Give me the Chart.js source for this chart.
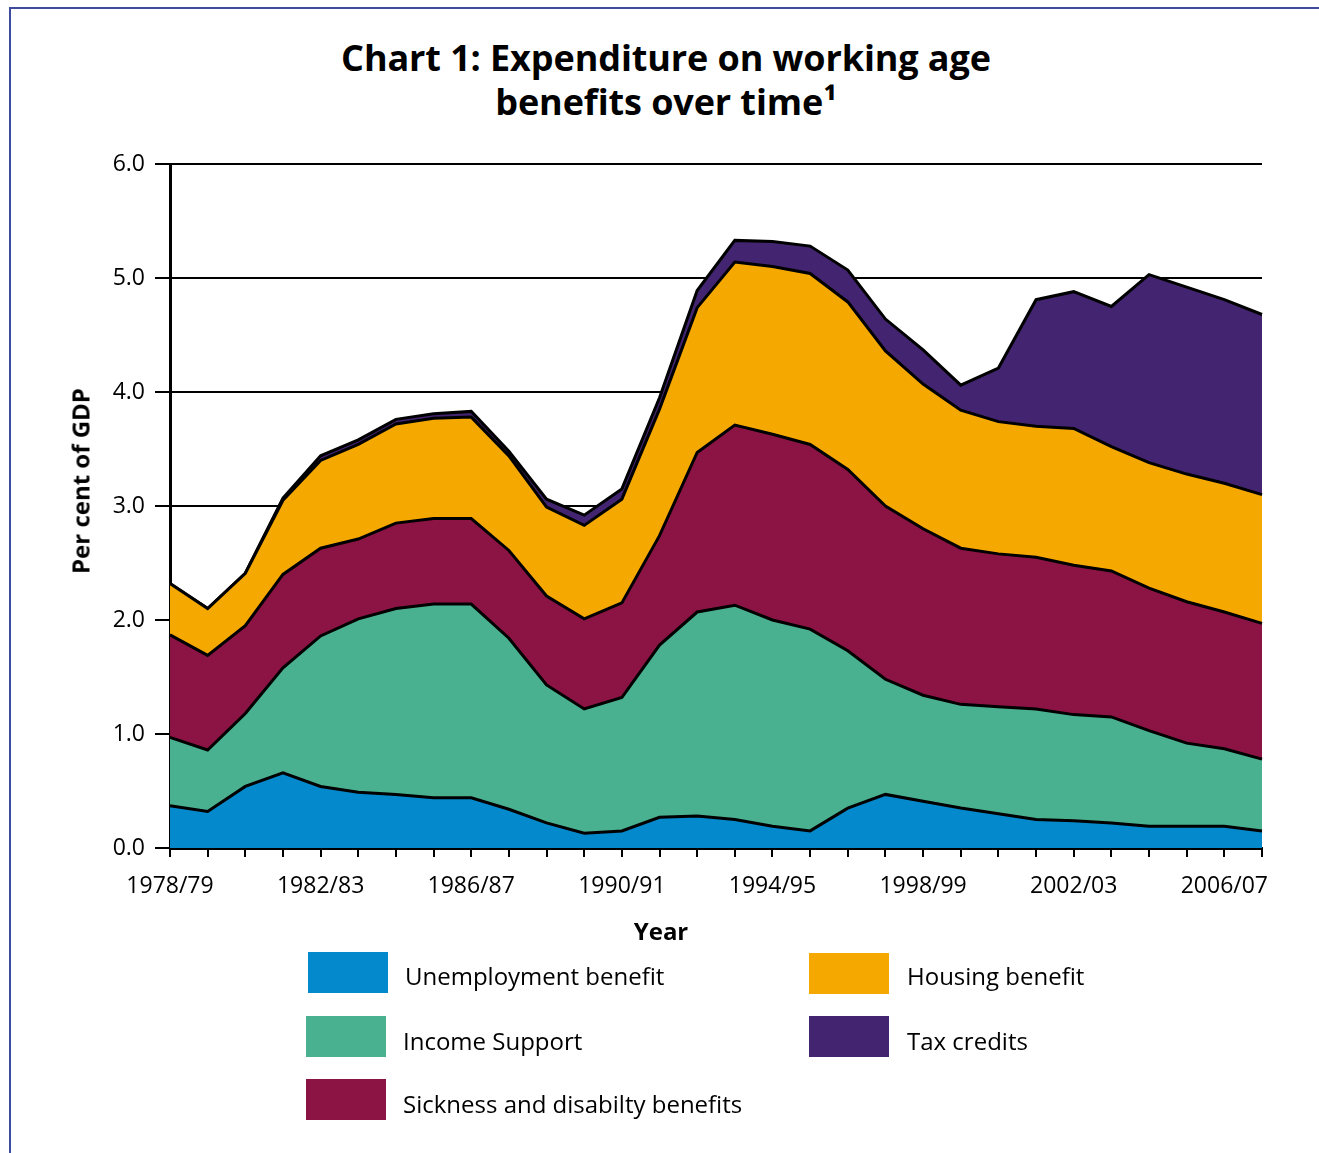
<!DOCTYPE html>
<html>
<head>
<meta charset="utf-8">
<script src="https://cdn.jsdelivr.net/npm/chart.js@4.4.1/dist/chart.umd.min.js"></script>
<style>
  body { margin: 0; background: #fff; }
  #page { position: relative; width: 1319px; height: 1153px; overflow: hidden; font-family: "Open Sans", sans-serif; color: #000; }
  #frame { position: absolute; left: 9px; top: 7px; width: 1330px; height: 1170px; border-top: 2px solid #3d4c9c; border-left: 2px solid #3d4c9c; }
  #title { position: absolute; left: 0; top: 36px; width: 1332px; text-align: center; font-weight: bold; font-size: 36px; line-height: 44px; letter-spacing: -0.1px; }
  #chart { position: absolute; left: 0; top: 0; }
  #ytitle { position: absolute; left: 80px; top: 481px; transform: translate(-50%, -50%) rotate(-90deg); font-weight: bold; font-size: 24px; white-space: nowrap; }
  #xtitle { position: absolute; left: 661px; top: 930px; transform: translate(-50%, -50%); font-weight: bold; font-size: 24px; }
  .sw { position: absolute; width: 80px; height: 41px; }
  .lb { position: absolute; font-size: 24px; line-height: 41px; white-space: nowrap; }
</style>
</head>
<body>
<div id="page">
  <div id="frame"></div>
  <div id="title">Chart 1: Expenditure on working age<br>benefits over time¹</div>
  <canvas id="chart" width="1319" height="1153"></canvas>
  <div id="ytitle">Per cent of GDP</div>
  <div id="xtitle">Year</div>

  <div class="sw" style="left:308px;top:952px;background:#0389cc"></div>
  <div class="lb" style="left:405px;top:955px">Unemployment benefit</div>
  <div class="sw" style="left:306px;top:1016px;background:#49b090"></div>
  <div class="lb" style="left:403px;top:1020px">Income Support</div>
  <div class="sw" style="left:306px;top:1079px;background:#8c1445"></div>
  <div class="lb" style="left:403px;top:1083px">Sickness and disabilty benefits</div>
  <div class="sw" style="left:809px;top:953px;background:#f5a800"></div>
  <div class="lb" style="left:907px;top:955px">Housing benefit</div>
  <div class="sw" style="left:809px;top:1016px;background:#432470"></div>
  <div class="lb" style="left:907px;top:1020px">Tax credits</div>
</div>

<script>
// financial years shown on the x axis
const years = [
  '1978/79', '1979/80', '1980/81', '1981/82', '1982/83', '1983/84', '1984/85', '1985/86',
  '1986/87', '1987/88', '1988/89', '1989/90', '1990/91', '1991/92', '1992/93', '1993/94',
  '1994/95', '1995/96', '1996/97', '1997/98', '1998/99', '1999/00', '2000/01', '2001/02',
  '2002/03', '2003/04', '2004/05', '2005/06', '2006/07', '2007/08'
];

// per cent of GDP
const unemployment = [0.37, 0.32, 0.54, 0.66, 0.54, 0.49, 0.47, 0.44, 0.44, 0.34, 0.22, 0.13, 0.15, 0.27, 0.28,
  0.25, 0.19, 0.15, 0.35, 0.47, 0.41, 0.35, 0.30, 0.25, 0.24, 0.22, 0.19, 0.19, 0.19, 0.15];
const incomeSupport = [0.60, 0.54, 0.64, 0.92, 1.32, 1.52, 1.63, 1.70, 1.70, 1.50, 1.21, 1.09, 1.17, 1.51, 1.79,
  1.88, 1.81, 1.77, 1.38, 1.01, 0.93, 0.91, 0.94, 0.97, 0.93, 0.93, 0.84, 0.73, 0.68, 0.63];
const sickness = [0.90, 0.83, 0.77, 0.82, 0.77, 0.70, 0.75, 0.75, 0.75, 0.77, 0.78, 0.79, 0.83, 0.96, 1.40,
  1.58, 1.63, 1.62, 1.59, 1.52, 1.46, 1.37, 1.34, 1.33, 1.31, 1.28, 1.25, 1.24, 1.20, 1.19];
const housing = [0.45, 0.41, 0.46, 0.65, 0.77, 0.83, 0.87, 0.88, 0.89, 0.83, 0.78, 0.82, 0.91, 1.11, 1.27,
  1.43, 1.47, 1.50, 1.47, 1.36, 1.27, 1.21, 1.16, 1.15, 1.20, 1.09, 1.10, 1.12, 1.13, 1.13];
const taxCredits = [0, 0, 0, 0.02, 0.04, 0.04, 0.04, 0.04, 0.05, 0.04, 0.07, 0.09, 0.09, 0.10, 0.15,
  0.19, 0.22, 0.24, 0.28, 0.28, 0.30, 0.22, 0.47, 1.11, 1.20, 1.23, 1.65, 1.64, 1.61, 1.58];

const yTicks = ['0.0', '1.0', '2.0', '3.0', '4.0', '5.0', '6.0'];

const series = [
  { label: 'Unemployment benefit', data: unemployment, color: '#0389cc' },
  { label: 'Income Support', data: incomeSupport, color: '#49b090' },
  { label: 'Sickness and disabilty benefits', data: sickness, color: '#8c1445' },
  { label: 'Housing benefit', data: housing, color: '#f5a800' },
  { label: 'Tax credits', data: taxCredits, color: '#432470' }
];

new Chart(document.getElementById('chart'), {
  type: 'line',
  data: {
    labels: years,
    datasets: series.map((s, i) => ({
      label: s.label,
      data: s.data,
      backgroundColor: s.color,
      borderColor: '#000',
      borderWidth: 3,
      fill: i === 0 ? 'origin' : '-1',
      pointRadius: 0,
      tension: 0
    }))
  },
  options: {
    responsive: false,
    animation: false,
    layout: { padding: { left: 0, top: 164, right: 57, bottom: 205 } },
    plugins: { legend: { display: false }, tooltip: { enabled: false } },
    scales: {
      x: {
        grid: { drawOnChartArea: false, drawTicks: true, tickLength: 9, color: '#000', lineWidth: 2 },
        border: { color: '#000', width: 3 },
        ticks: {
          autoSkip: false,
          maxRotation: 0,
          color: '#000',
          font: { family: 'Open Sans', size: 23 },
          padding: 16,
          callback: (v, i) => (i % 4 === 0 ? years[i] : '')
        },
        afterFit: (s) => { s.height = 100; }
      },
      y: {
        stacked: true,
        min: 0,
        max: 6,
        grid: { color: '#000', lineWidth: 2, tickLength: 15 },
        border: { color: '#000', width: 3 },
        ticks: {
          stepSize: 1,
          color: '#000',
          font: { family: 'Open Sans', size: 23 },
          padding: 10,
          callback: (v) => yTicks[v]
        },
        afterFit: (s) => { s.width = 170; }
      }
    }
  }
});
</script>
</body>
</html>
